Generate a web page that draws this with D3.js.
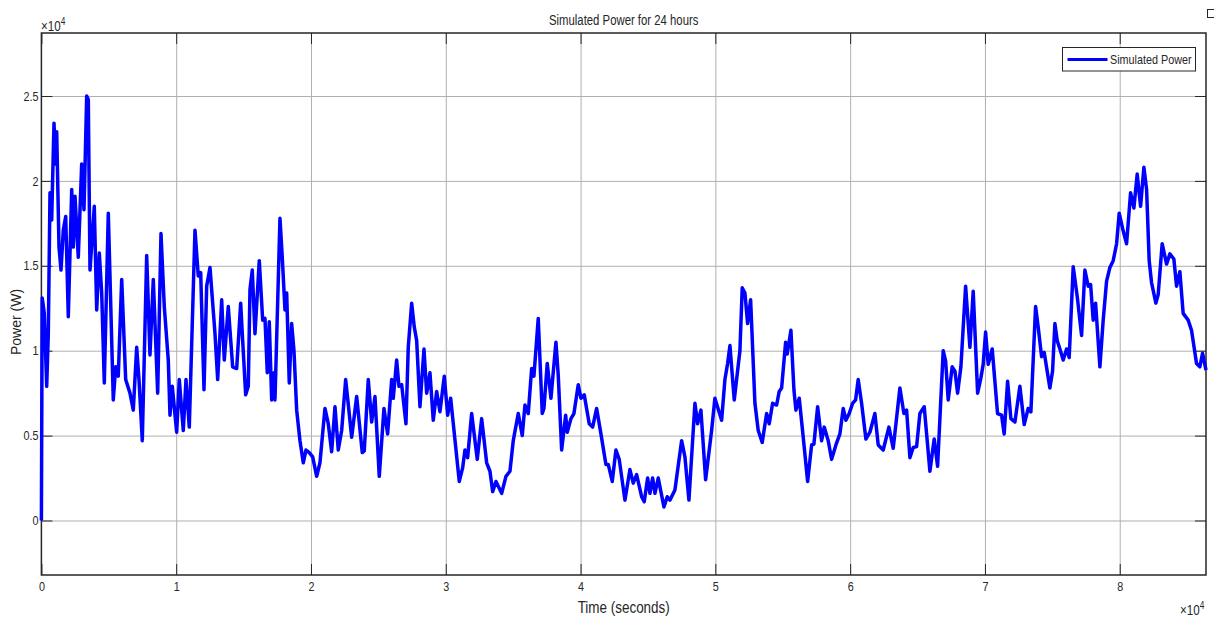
<!DOCTYPE html>
<html>
<head>
<meta charset="utf-8">
<script src="https://cdn.jsdelivr.net/npm/d3@7"></script>
<style>
  body { margin: 0; background: #fff; }
  svg { display: block; }
  text { font-family: "Liberation Sans", Arial, sans-serif; fill: #262626; }
</style>
</head>
<body>
<div id="chart"></div>
<script>
const timeSec = [0, 60, 215, 393, 512, 638, 764, 809, 935, 1061, 1135, 1306, 1454, 1625, 1803, 1996, 2248, 2366, 2492, 2737,
  2989, 3160, 3360, 3479, 3605, 3924, 4102, 4295, 4473, 4666, 4963, 5333, 5512, 5704, 5957, 6253, 6572, 6817, 7069, 7240,
  7485, 7811, 8056, 8301, 8627, 8872, 9117, 9413, 9540, 9710, 10036, 10229, 10526, 10727, 10971, 11394, 11639, 11817, 12062, 12262,
  12507, 12878, 13078, 13375, 13567, 13864, 14190, 14487, 14784, 14932, 15155, 15348, 15474, 15645, 15845, 16164, 16416, 16587, 16758, 16906,
  17084, 17254, 17329, 17699, 17870, 18070, 18197, 18389, 18567, 18738, 18938, 19183, 19428, 19628, 19873, 20125, 20422, 20666, 21037, 21282,
  21534, 21780, 22024, 22276, 22573, 22721, 23018, 23389, 23804, 23953, 24250, 24502, 24747, 25066, 25414, 25688, 25985, 26104, 26356, 26527,
  26727, 27046, 27217, 27469, 27662, 27840, 28085, 28382, 28582, 28827, 29072, 29324, 29569, 29888, 30140, 30362, 30733, 31000, 31252, 31423,
  31623, 31920, 32335, 32662, 33033, 33278, 33478, 33723, 33967, 34146, 34464, 34761, 35006, 35377, 35674, 35874, 36119, 36371, 36541, 36860,
  37157, 37283, 37528, 37802, 38173, 38344, 38596, 38893, 39011, 39286, 39508, 39827, 40027, 40272, 40643, 40895, 41192, 41511, 41882, 42053,
  42350, 42624, 42869, 43291, 43662, 43907, 44159, 44530, 44723, 44975, 45146, 45346, 45517, 45762, 46184, 46429, 46629, 47000, 47497, 47742,
  48039, 48484, 48684, 48929, 49277, 49722, 49967, 50464, 50709, 50909, 51081, 51400, 51822, 51993, 52193, 52393, 52616, 52935, 53180, 53477,
  53803, 53996, 54248, 54545, 54738, 54916, 55213, 55332, 55606, 55829, 55977, 56222, 56519, 56845, 57142, 57312, 57587, 57883, 58076, 58373,
  58625, 58944, 59240, 59485, 59685, 59930, 60182, 60404, 60597, 60849, 61168, 61465, 61836, 62081, 62452, 62875, 63194, 63691, 63988, 64188,
  64433, 64678, 64930, 65175, 65494, 65672, 65917, 66236, 66488, 66903, 67081, 67275, 67571, 67772, 67972, 68217, 68566, 68884, 69129, 69456,
  69700, 69871, 70049, 70242, 70539, 70936, 71235, 71428, 71680, 71925, 72222, 72593, 72912, 73208, 73408, 73757, 73950, 74202, 74395, 74818,
  75018, 75190, 75360, 75561, 75806, 76058, 76251, 76548, 76845, 77170, 77415, 77660, 77838, 78031, 78209, 78528, 78773, 79025, 79270, 79515,
  79767, 79960, 80212, 80508, 80805, 81050, 81295, 81547, 81792, 81992, 82185, 82363, 82682, 82852, 83149, 83475, 83720, 84016, 84216, 84461,
  84706, 85077, 85325, 85699, 85944, 86144, 86400]

const powerW = [0, 13100, 12200, 7900, 11000, 19300, 17700, 19300, 23400, 21000, 22900, 16100, 14750, 17100, 17900, 12000, 19500, 16100, 19100, 15500,
  21000, 18300, 25000, 24800, 14750, 18500, 12400, 15750, 13400, 8100, 18100, 7100, 9050, 8500, 14200, 8300, 7500, 6500, 10200, 8300,
  4700, 15600, 9750, 14200, 7500, 16900, 12600, 9450, 6200, 7900, 5200, 8300, 5300, 8300, 5500, 17100, 14400, 14600, 7700, 13800,
  14900, 11000, 8300, 13000, 9450, 12600, 9050, 8950, 12800, 10600, 7400, 7900, 13600, 14750, 11000, 15300, 11800, 11900, 8700, 11700,
  7100, 8700, 7100, 17800, 15500, 12400, 13400, 8100, 11600, 10000, 6500, 4700, 3400, 4150, 4000, 3750, 2600, 3400, 6600, 5700,
  4050, 6700, 4150, 5300, 8300, 7200, 4900, 7300, 4000, 4100, 8300, 5800, 7300, 2600, 6600, 5100, 8300, 7200, 9450, 7900,
  8000, 5700, 10200, 12800, 11400, 10600, 6700, 10100, 7500, 8700, 5900, 7600, 6400, 8500, 6200, 7200, 4350, 2300, 3100, 4150,
  3700, 6300, 3600, 6000, 3400, 2900, 1700, 2300, 1900, 1600, 2600, 2900, 4700, 6300, 5000, 6800, 6300, 8950, 8500, 11900,
  6300, 6600, 9250, 7200, 10500, 8550, 4150, 6200, 5200, 6000, 6300, 8000, 7200, 7400, 5700, 5500, 6600, 5100, 3300, 3300,
  2300, 4150, 3600, 1200, 3000, 2200, 2700, 1400, 1100, 2500, 1600, 2500, 1600, 2500, 800, 1400, 1200, 1800, 4700, 3750,
  1200, 6900, 5700, 6500, 2400, 5300, 7200, 5900, 8300, 9250, 10300, 7100, 10000, 13700, 13400, 11600, 13000, 6900, 5300, 4600,
  6300, 5700, 6900, 6800, 7600, 7800, 10500, 9800, 11200, 7700, 6500, 7200, 4900, 2300, 4450, 4500, 6700, 4700, 5500, 4700,
  3600, 4450, 5100, 6600, 5900, 6300, 6900, 7100, 8300, 6900, 4800, 5200, 6300, 4450, 4150, 5500, 4250, 7800, 6300, 6500,
  3700, 4300, 4350, 6300, 6700, 5100, 2900, 4800, 3200, 10000, 9400, 7100, 9050, 8800, 7500, 9050, 13800, 10200, 13500, 7500,
  8400, 9200, 11100, 9200, 10100, 6300, 6200, 5100, 8200, 6000, 5800, 7900, 5650, 6600, 6400, 12600, 11400, 9650, 9900, 7800,
  8800, 11600, 10600, 10100, 9450, 10100, 9600, 14950, 13200, 10900, 14750, 13800, 13900, 11800, 12800, 9050, 11800, 14100, 14900, 15300,
  16300, 18100, 17200, 16300, 19300, 18400, 20400, 18500, 20800, 19500, 15300, 14000, 12800, 13300, 16300, 15100, 15700, 15400, 13800, 14650,
  12200, 11800, 11200, 9250, 9050, 9850, 8850]

const xTicks = [0, 10000, 20000, 30000, 40000, 50000, 60000, 70000, 80000]
const xTickLabels = ['0', '1', '2', '3', '4', '5', '6', '7', '8']
const yTicks = [0, 5000, 10000, 15000, 20000, 25000]
const yTickLabels = ['0', '0.5', '1', '1.5', '2', '2.5']
const xDomain = [0, 86400]
const yDomain = [-3210, 28710]

const width = 1214
const height = 619
const plotLeft = 41.4, plotRight = 1206, plotTop = 33, plotBottom = 575
const tickLen = 11
const squeeze = 0.83

const svg = d3.select('#chart')
    .append('svg')
    .attr('width', width)
    .attr('height', height)

// the figure is a little narrower than its fonts, so text is compressed horizontally
const narrow = (sel, f = squeeze) => sel.each(function () {
    const len = this.getComputedTextLength()
    d3.select(this).attr('textLength', len * f).attr('lengthAdjust', 'spacingAndGlyphs')
})

const x = d3.scaleLinear().domain(xDomain).range([plotLeft, plotRight])
const y = d3.scaleLinear().domain(yDomain).range([plotBottom, plotTop])

// grid
svg.append('g')
    .attr('transform', `translate(0,${plotBottom})`)
    .call(d3.axisBottom(x).tickValues(xTicks.slice(1)).tickSize(-(plotBottom - plotTop)).tickFormat(''))
    .call(g => g.select('.domain').remove())
    .call(g => g.selectAll('line').attr('stroke', '#b0b0b0').attr('stroke-width', 1))

svg.append('g')
    .attr('transform', `translate(${plotLeft},0)`)
    .call(d3.axisLeft(y).tickValues(yTicks).tickSize(-(plotRight - plotLeft)).tickFormat(''))
    .call(g => g.select('.domain').remove())
    .call(g => g.selectAll('line').attr('stroke', '#b0b0b0').attr('stroke-width', 1))

// axes with inner ticks on all sides
const styleAxis = g => {
    g.select('.domain').remove()
    g.selectAll('line').attr('stroke', '#262626').attr('stroke-width', 1)
    g.selectAll('text')
        .style('font-family', '"Liberation Sans", Arial, sans-serif')
        .style('font-size', '13px')
        .attr('fill', '#262626')
        .call(narrow)
}

svg.append('g')
    .attr('transform', `translate(0,${plotBottom})`)
    .call(d3.axisBottom(x).tickValues(xTicks).tickSize(-tickLen).tickPadding(7)
        .tickFormat((d, i) => xTickLabels[i]))
    .call(styleAxis)

svg.append('g')
    .attr('transform', `translate(0,${plotTop})`)
    .call(d3.axisTop(x).tickValues(xTicks).tickSize(-tickLen).tickFormat(''))
    .call(styleAxis)

svg.append('g')
    .attr('transform', `translate(${plotLeft},0)`)
    .call(d3.axisLeft(y).tickValues(yTicks).tickSize(-tickLen).tickPadding(3)
        .tickFormat((d, i) => yTickLabels[i]))
    .call(styleAxis)

svg.append('g')
    .attr('transform', `translate(${plotRight},0)`)
    .call(d3.axisRight(y).tickValues(yTicks).tickSize(-tickLen).tickFormat(''))
    .call(styleAxis)

svg.append('rect')
    .attr('x', plotLeft)
    .attr('y', plotTop)
    .attr('width', plotRight - plotLeft)
    .attr('height', plotBottom - plotTop)
    .attr('fill', 'none')
    .attr('stroke', '#262626')
    .attr('stroke-width', 1.5)

// data line
const points = timeSec.map((t, i) => [t, powerW[i]])
svg.append('path')
    .datum(points)
    .attr('fill', 'none')
    .attr('stroke', '#0000ff')
    .attr('stroke-width', 3.5)
    .attr('stroke-linejoin', 'round')
    .attr('d', d3.line().x(d => x(d[0])).y(d => y(d[1])))

// exponent labels
const expLabel = (xPos, yPos) => {
    const t = svg.append('text')
        .attr('x', xPos)
        .attr('y', yPos)
        .attr('transform', `translate(${xPos},0) scale(${squeeze},1) translate(${-xPos},0)`)
        .style('font-size', '14px')
    t.append('tspan').text('\u00d710')
    t.append('tspan').attr('dy', -6).style('font-size', '10px').text('4')
}
expLabel(41, 31)
expLabel(1180, 615)

// title and axis labels
svg.append('text')
    .attr('x', (plotLeft + plotRight) / 2)
    .attr('y', 25)
    .attr('text-anchor', 'middle')
    .style('font-size', '14px')
    .text('Simulated Power for 24 hours')
    .call(narrow, 0.81)

svg.append('text')
    .attr('x', (plotLeft + plotRight) / 2)
    .attr('y', 613)
    .attr('text-anchor', 'middle')
    .style('font-size', '16px')
    .text('Time (seconds)')
    .call(narrow, 0.84)

svg.append('text')
    .attr('transform', `translate(21,322) rotate(-90)`)
    .attr('text-anchor', 'middle')
    .style('font-size', '14px')
    .text('Power (W)')

// legend
const legend = svg.append('g')
legend.append('rect')
    .attr('x', 1062.5)
    .attr('y', 47.5)
    .attr('width', 133)
    .attr('height', 23.5)
    .attr('fill', '#fff')
    .attr('stroke', '#262626')
    .attr('stroke-width', 1)
legend.append('line')
    .attr('x1', 1067.5)
    .attr('x2', 1107.5)
    .attr('y1', 59.5)
    .attr('y2', 59.5)
    .attr('stroke', '#0000ff')
    .attr('stroke-width', 3)
legend.append('text')
    .attr('x', 1110)
    .attr('y', 64)
    .style('font-size', '13px')
    .text('Simulated Power')
    .call(narrow)

// corner marker of the figure window
svg.append('rect')
    .attr('x', 1207.5)
    .attr('y', 9.5)
    .attr('width', 8)
    .attr('height', 8)
    .attr('fill', 'none')
    .attr('stroke', '#262626')
    .attr('stroke-width', 1)
</script>
</body>
</html>
